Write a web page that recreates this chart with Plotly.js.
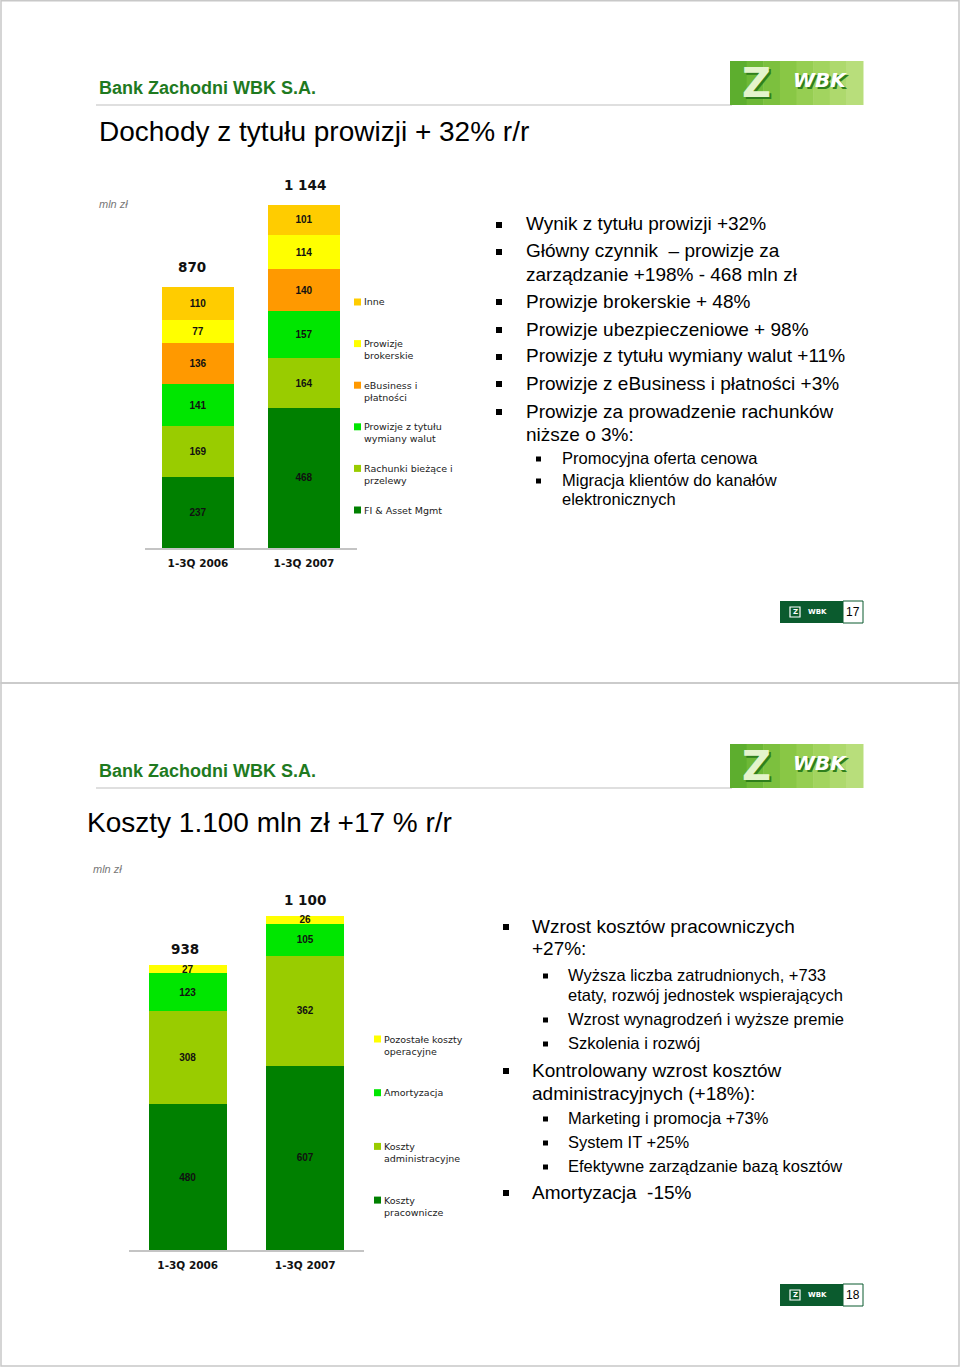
<!DOCTYPE html>
<html>
<head>
<meta charset="utf-8">
<script src="https://cdn.plot.ly/plotly-3.0.1.min.js"></script>
<style>
html,body{margin:0;padding:0;background:#fff;}
#chart{width:960px;height:1367px;}
</style>
</head>
<body>
<div id="chart"></div>
<script>
// ---------- DATA ----------
const categories = ['1-3Q 2006', '1-3Q 2007'];

// Slide 1: Dochody z tytułu prowizji (mln zł), bottom to top
const feeNames = ['FI & Asset Mgmt', 'Rachunki bieżące i przelewy', 'Prowizje z tytułu wymiany walut', 'eBusiness i płatności', 'Prowizje brokerskie', 'Inne'];
const feeFI = [237, 468];
const feeRachunki = [169, 164];
const feeWaluty = [141, 157];
const feeEbiz = [136, 140];
const feeBroker = [77, 114];
const feeInne = [110, 101];
const feeTotals = [870, 1144];
const feeTotalLabels = ['870', '1 144'];
const feeLegendLabels = ['Inne', 'Prowizje\nbrokerskie', 'eBusiness i\npłatności', 'Prowizje z tytułu\nwymiany walut', 'Rachunki bieżące i\nprzelewy', 'FI & Asset Mgmt'];

// Slide 2: Koszty (mln zł), bottom to top
const costNames = ['Koszty pracownicze', 'Koszty administracyjne', 'Amortyzacja', 'Pozostałe koszty operacyjne'];
const costPrac = [480, 607];
const costAdmin = [308, 362];
const costAmort = [123, 105];
const costPozost = [27, 26];
const costTotals = [938, 1100];
const costTotalLabels = ['938', '1 100'];
const costLegendLabels = ['Pozostałe koszty\noperacyjne', 'Amortyzacja', 'Koszty\nadministracyjne', 'Koszty\npracownicze'];

const slide1Bullets = [
  ['Wynik z tytułu prowizji +32%'],
  ['Główny czynnik  – prowizje za', 'zarządzanie +198% - 468 mln zł'],
  ['Prowizje brokerskie + 48%'],
  ['Prowizje ubezpieczeniowe + 98%'],
  ['Prowizje z tytułu wymiany walut +11%'],
  ['Prowizje z eBusiness i płatności +3%'],
  ['Prowizje za prowadzenie rachunków', 'niższe o 3%:']
];
const slide1Sub = [['Promocyjna oferta cenowa'], ['Migracja klientów do kanałów', 'elektronicznych']];

// ---------- STYLE ----------
const W = 960, H = 1367;
const px = x => x / W;
const py = y => 1 - y / H;
const SANS = 'Liberation Sans, Arial, sans-serif';
const VERD = 'DejaVu Sans, Verdana, sans-serif';

const feeColors = ['#008000', '#99CC00', '#00E600', '#FF9900', '#FFFF00', '#FFCC00'];
const costColors = ['#008000', '#99CC00', '#00E600', '#FFFF00'];

function barTrace(name, vals, color, xa, ya, width) {
  return {
    type: 'bar', name: name, x: categories, y: vals,
    xaxis: xa, yaxis: ya, width: width,
    marker: {color: color, line: {width: 0}},
    text: vals.map(String), texttemplate: '<b>%{text}</b>',
    textposition: 'inside', insidetextanchor: 'middle', textangle: 0,
    textfont: {family: SANS, size: 10, color: '#111'},
    hoverinfo: 'skip', showlegend: false
  };
}

const feeVals = [feeFI, feeRachunki, feeWaluty, feeEbiz, feeBroker, feeInne];
const costVals = [costPrac, costAdmin, costAmort, costPozost];

const data = [];
feeVals.forEach((v, i) => data.push(barTrace(feeNames[i], v, feeColors[i], 'x', 'y', 0.68)));
costVals.forEach((v, i) => data.push(barTrace(costNames[i], v, costColors[i], 'x2', 'y2', 0.665)));

const shapes = [];
const annotations = [];

function rect(x0, y0, x1, y1, fill, line, lw) {
  shapes.push({type: 'rect', xref: 'paper', yref: 'paper', x0: px(x0), x1: px(x1), y0: py(y1), y1: py(y0),
    fillcolor: fill || 'rgba(0,0,0,0)', line: {color: line || 'rgba(0,0,0,0)', width: lw || 0}, layer: 'above'});
}
function hline(x0, x1, y, color, w) {
  shapes.push({type: 'line', xref: 'paper', yref: 'paper', x0: px(x0), x1: px(x1), y0: py(y), y1: py(y), line: {color: color, width: w}});
}
function text(t, x, y, size, opts) {
  opts = opts || {};
  annotations.push({xref: 'paper', yref: 'paper', x: px(x), y: py(y), text: t, showarrow: false,
    xanchor: opts.xa || 'left', yanchor: 'middle',
    font: {family: opts.family || SANS, size: size, color: opts.color || '#000', weight: opts.weight || 'normal', style: opts.style || 'normal'}});
}

// slide borders
rect(1, 0.7, 959, 683, null, '#c8c8c8', 1.5);
rect(1, 683, 959, 1366, null, '#c8c8c8', 1.5);

function logo(y0) {
  const stops = ['#5DAE2E', '#6DB836', '#7CC03E', '#89C745', '#96CE52', '#A2D45F', '#AED96D', '#B8DE7B'];
  const x0 = 730, x1 = 863, n = stops.length, w = (x1 - x0) / n;
  stops.forEach((c, i) => rect(x0 + i * w, y0, x0 + (i + 1) * w + 0.5, y0 + 44, c));
  text('<b>Z</b>', 758, y0 + 24, 40, {xa: 'center', family: VERD, color: '#2F7F1C'});
  text('<b>Z</b>', 756, y0 + 22, 40, {xa: 'center', family: VERD, color: '#E4F4CC'});
  text('<b><i>WBK</i></b>', 822, y0 + 21, 20, {xa: 'center', family: VERD, color: '#2F7F1C'});
  text('<b><i>WBK</i></b>', 820, y0 + 19, 20, {xa: 'center', family: VERD, color: '#FFFFFF'});
}
function footer(y0, num) {
  rect(780, y0, 843, y0 + 22, '#0B5B2E');
  rect(843, y0, 863, y0 + 22, '#FFFFFF', '#0B5B2E', 1);
  rect(790, y0 + 6, 800, y0 + 16, null, '#FFFFFF', 1.2);
  text('<b>Z</b>', 795, y0 + 11, 7, {xa: 'center', family: VERD, color: '#FFFFFF'});
  text('<b>WBK</b>', 817, y0 + 11, 7, {xa: 'center', family: VERD, color: '#FFFFFF'});
  text(num, 853, y0 + 11, 12, {xa: 'center'});
}

function header(yHead, yLine, title, xTitle, yTitle, yLogo) {
  text('<b>Bank Zachodni WBK S.A.</b>', 97, yHead, 18, {color: '#1F7A1F'});
  hline(96, 732, yLine, '#d4d4d4', 1.5);
  text(title, xTitle, yTitle, 28);
  logo(yLogo);
}

header(88, 105, 'Dochody z tytułu prowizji + 32% r/r', 97, 131, 61);
header(771, 788, 'Koszty 1.100 mln zł +17 % r/r', 85, 822, 744);
footer(601, '17');
footer(1284, '18');

text('mln zł', 97, 204, 11, {style: 'italic', color: '#777'});
text('mln zł', 91, 869, 11, {style: 'italic', color: '#777'});

// totals above bars
feeTotals.forEach((t, i) => annotations.push({xref: 'x', yref: 'y', x: categories[i], y: t, yshift: 20, xshift: i === 0 ? -6 : 1,
  text: '<b>' + feeTotalLabels[i] + '</b>', showarrow: false, yanchor: 'middle', font: {family: VERD, size: 13.5, color: '#111'}}));
costTotals.forEach((t, i) => annotations.push({xref: 'x2', yref: 'y2', x: categories[i], y: t, yshift: 16, xshift: i === 0 ? -3 : 0,
  text: '<b>' + costTotalLabels[i] + '</b>', showarrow: false, yanchor: 'middle', font: {family: VERD, size: 13.5, color: '#111'}}));

// legends (top to bottom = reverse of stack)
function legend(labels, colors, xm, y0, step) {
  labels.forEach((lab, i) => {
    const y = y0 + i * step;
    rect(xm, y - 3.5, xm + 7, y + 3.5, colors[i]);
    lab.split('\n').forEach((ln, k) => text(ln, xm + 8, y + k * 12, 9.5, {family: VERD, color: '#222'}));
  });
}
legend(feeLegendLabels, feeColors.slice().reverse(), 354, 302, 41.6);
legend(costLegendLabels, costColors.slice().reverse(), 374, 1039, 53.7);

// bullet text
function bullet(x, y, s) { rect(x, y - s / 2, x + s, y + s / 2, '#000'); }
// slide 1
(function () {
  const ys = [224, 251, 301, 329, 356, 383, 411];
  slide1Bullets.forEach((lines, i) => {
    bullet(496, ys[i] + 1, 6);
    lines.forEach((ln, k) => text(ln, 524, ys[i] + k * 23, 19));
  });
  const ys2 = [458, 480];
  slide1Sub.forEach((lines, i) => {
    bullet(536, ys2[i] + 1, 5);
    lines.forEach((ln, k) => text(ln, 560, ys2[i] + k * 19, 16.5));
  });
})();
// slide 2
(function () {
  const items = [
    {lvl: 0, y: 926, lines: ['Wzrost kosztów pracowniczych', '+27%:']},
    {lvl: 1, y: 975, lines: ['Wyższa liczba zatrudnionych, +733', 'etaty, rozwój jednostek wspierających']},
    {lvl: 1, y: 1019, lines: ['Wzrost wynagrodzeń i wyższe premie']},
    {lvl: 1, y: 1043, lines: ['Szkolenia i rozwój']},
    {lvl: 0, y: 1070, lines: ['Kontrolowany wzrost kosztów', 'administracyjnych (+18%):']},
    {lvl: 1, y: 1118, lines: ['Marketing i promocja +73%']},
    {lvl: 1, y: 1142, lines: ['System IT +25%']},
    {lvl: 1, y: 1166, lines: ['Efektywne zarządzanie bazą kosztów']},
    {lvl: 0, y: 1192, lines: ['Amortyzacja  -15%']}
  ];
  items.forEach(it => {
    if (it.lvl === 0) {
      bullet(503, it.y + 1, 6);
      it.lines.forEach((ln, k) => text(ln, 530, it.y + k * 23, 19));
    } else {
      bullet(543, it.y + 1, 5);
      it.lines.forEach((ln, k) => text(ln, 566, it.y + k * 20, 16.5));
    }
  });
})();

// axes
const base1 = 548, scale1 = 0.3, range1 = 1300;
const base2 = 1250, scale2 = 0.3037, range2 = 1250;
function xax(d0, d1, anchor) {
  return {domain: [px(d0), px(d1)], range: [-0.5, 1.5], type: 'category', anchor: anchor,
    showline: true, linecolor: '#c4c4c4', linewidth: 1.5, showgrid: false, zeroline: false, ticks: '',
    ticklabelstandoff: 5,
    tickfont: {family: VERD, size: 10.5, color: '#111', weight: 'bold'}, fixedrange: true};
}
function yax(base, scale, range, anchor) {
  return {domain: [py(base), py(base - scale * range)], range: [0, range], visible: false, anchor: anchor, fixedrange: true};
}

const layout = {
  width: W, height: H, margin: {l: 0, r: 0, t: 0, b: 0},
  paper_bgcolor: '#fff', plot_bgcolor: 'rgba(0,0,0,0)',
  barmode: 'stack', showlegend: false,
  uniformtext: {mode: 'show', minsize: 10},
  xaxis: xax(145, 357, 'y'),
  yaxis: yax(base1, scale1, range1, 'x'),
  xaxis2: xax(129, 364, 'y2'),
  yaxis2: yax(base2, scale2, range2, 'x2'),
  shapes: shapes, annotations: annotations
};

Plotly.newPlot('chart', data, layout, {staticPlot: true, displayModeBar: false});
</script>
</body>
</html>
